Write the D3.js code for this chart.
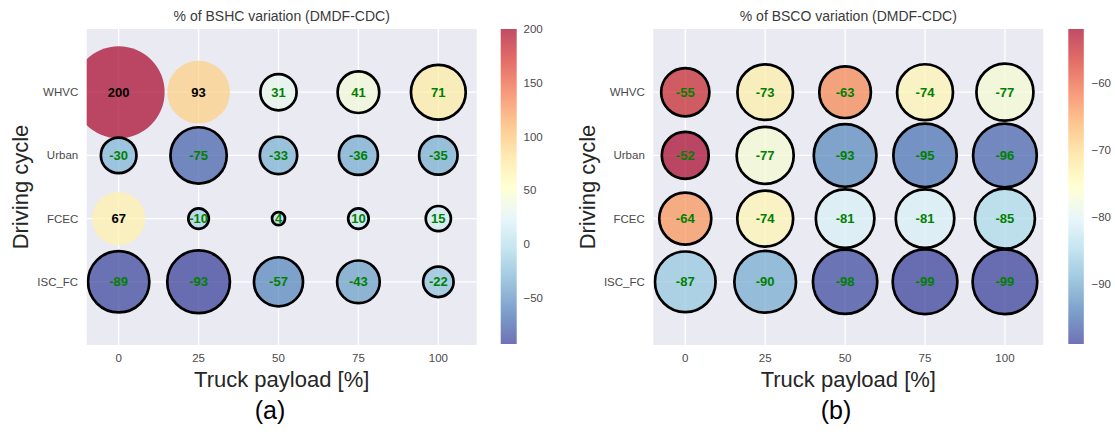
<!DOCTYPE html>
<html>
<head>
<meta charset="utf-8">
<script src="https://cdn.jsdelivr.net/npm/d3@7"></script>
<style>
  html, body { margin: 0; padding: 0; background: #ffffff; }
  svg { display: block; }
  text { font-family: "Liberation Sans", Arial, sans-serif; }
</style>
</head>
<body>
<svg id="chart" width="1115" height="439"></svg>
<script>
// Categories
const payloads = [0, 25, 50, 75, 100];
const cycles = ["WHVC", "Urban", "FCEC", "ISC_FC"];

// % of BSHC variation, one row per driving cycle (columns follow payloads)
const bshcWHVC  = [200, 93, 31, 41, 71];
const bshcUrban = [-30, -75, -33, -36, -35];
const bshcFCEC  = [67, -10, 4, 10, 15];
const bshcISC   = [-89, -93, -57, -43, -22];
// points drawn with a black ring (1) or without (0)
const bshcRingWHVC  = [0, 0, 1, 1, 1];
const bshcRingUrban = [1, 1, 1, 1, 1];
const bshcRingFCEC  = [0, 1, 1, 1, 1];
const bshcRingISC   = [1, 1, 1, 1, 1];

// % of BSCO variation
const bscoWHVC  = [-55, -73, -63, -74, -77];
const bscoUrban = [-52, -77, -93, -95, -96];
const bscoFCEC  = [-64, -74, -81, -81, -85];
const bscoISC   = [-87, -90, -98, -99, -99];
const bscoRingWHVC  = [1, 1, 1, 1, 1];
const bscoRingUrban = [1, 1, 1, 1, 1];
const bscoRingFCEC  = [1, 1, 1, 1, 1];
const bscoRingISC   = [1, 1, 1, 1, 1];

// Colour bar tick labels
const bshcTicks = [-50, 0, 50, 100, 150, 200];
const bscoTicks = [-90, -80, -70, -60];

const svg = d3.select("#chart");

// RdYlBu reversed, piecewise linear between the 11 scheme colours
const rdylbu = d3.piecewise(d3.interpolateRgb, d3.schemeRdYlBu[11]);
const cmap = t => rdylbu(1 - Math.max(0, Math.min(1, t)));

// marker area proportional to |value|
const rScale = d3.scaleSqrt().domain([0, 200]).range([0, 3.25 * Math.sqrt(200)]);

const PLOT_TOP = 29, PLOT_BOTTOM = 345;
const CB_TOP = 29, CB_BOTTOM = 344;
const TICK_COLOR = "#4a4a4a";

const panels = [
  {
    id: "a",
    title: "% of BSHC variation (DMDF-CDC)",
    rows: [bshcWHVC, bshcUrban, bshcFCEC, bshcISC],
    rings: [bshcRingWHVC, bshcRingUrban, bshcRingFCEC, bshcRingISC],
    ticks: bshcTicks,
    left: 86.7, right: 476.7,
    cbX: 500.7, cbW: 16, cbLabelX: 523.5,
    yLabelX: 28, tagX: 270, tag: "(a)"
  },
  {
    id: "b",
    title: "% of BSCO variation (DMDF-CDC)",
    rows: [bscoWHVC, bscoUrban, bscoFCEC, bscoISC],
    rings: [bscoRingWHVC, bscoRingUrban, bscoRingFCEC, bscoRingISC],
    ticks: bscoTicks,
    left: 653.3, right: 1043.3,
    cbX: 1068.3, cbW: 15.5, cbLabelX: 1091.5,
    yLabelX: 594.5, tagX: 836, tag: "(b)"
  }
];

const defs = svg.append("defs");

panels.forEach(p => {
  const x = d3.scaleLinear().domain([-10, 112]).range([p.left, p.right]);
  const y = d3.scalePoint().domain(cycles).range([PLOT_TOP, PLOT_BOTTOM]).padding(1);

  const all = p.rows.flat();
  const ext = d3.extent(all);
  const norm = d3.scaleLinear().domain(ext).range([0, 1]);
  const cbScale = d3.scaleLinear().domain(ext).range([CB_BOTTOM, CB_TOP]);

  const g = svg.append("g");

  // clip region for the plotting area
  defs.append("clipPath").attr("id", "clip-" + p.id)
    .append("rect")
    .attr("x", p.left).attr("y", PLOT_TOP)
    .attr("width", p.right - p.left).attr("height", PLOT_BOTTOM - PLOT_TOP);

  // background
  g.append("rect")
    .attr("x", p.left).attr("y", PLOT_TOP)
    .attr("width", p.right - p.left).attr("height", PLOT_BOTTOM - PLOT_TOP)
    .attr("fill", "#EAEAF2");

  // grid
  g.append("g").selectAll("line").data(payloads).join("line")
    .attr("x1", d => x(d)).attr("x2", d => x(d))
    .attr("y1", PLOT_TOP).attr("y2", PLOT_BOTTOM)
    .attr("stroke", "#ffffff").attr("stroke-width", 1.3);
  g.append("g").selectAll("line").data(cycles).join("line")
    .attr("y1", d => y(d)).attr("y2", d => y(d))
    .attr("x1", p.left).attr("x2", p.right)
    .attr("stroke", "#ffffff").attr("stroke-width", 1.3);

  // bubbles
  const pts = [];
  cycles.forEach((c, i) => {
    payloads.forEach((pl, j) => {
      pts.push({ cycle: c, payload: pl, value: p.rows[i][j], ring: p.rings[i][j] === 1 });
    });
  });

  const plotG = g.append("g").attr("clip-path", "url(#clip-" + p.id + ")");
  plotG.selectAll("circle.fill").data(pts).join("circle")
    .attr("class", "fill")
    .attr("cx", d => x(d.payload)).attr("cy", d => y(d.cycle))
    .attr("r", d => rScale(Math.abs(d.value)))
    .attr("fill", d => cmap(norm(d.value)))
    .attr("fill-opacity", 0.7);
  plotG.selectAll("circle.ring").data(pts.filter(d => d.ring)).join("circle")
    .attr("class", "ring")
    .attr("cx", d => x(d.payload)).attr("cy", d => y(d.cycle))
    .attr("r", d => rScale(Math.abs(d.value)))
    .attr("fill", "none")
    .attr("stroke", "#000").attr("stroke-width", 2.7);
  plotG.selectAll("text.val").data(pts).join("text")
    .attr("class", "val")
    .attr("x", d => x(d.payload)).attr("y", d => y(d.cycle))
    .attr("text-anchor", "middle").attr("dominant-baseline", "central")
    .attr("font-size", 13).attr("font-weight", "bold")
    .attr("fill", d => d.ring ? "#008000" : "#000000")
    .text(d => String(d.value));

  // x tick labels
  g.append("g").selectAll("text").data(payloads).join("text")
    .attr("x", d => x(d)).attr("y", 362)
    .attr("text-anchor", "middle").attr("font-size", 11.5).attr("fill", TICK_COLOR)
    .text(d => d);
  // y tick labels
  g.append("g").selectAll("text").data(cycles).join("text")
    .attr("x", p.left - 8.5).attr("y", d => y(d))
    .attr("text-anchor", "end").attr("dominant-baseline", "central")
    .attr("font-size", 11.5).attr("fill", TICK_COLOR)
    .text(d => d);

  // title and axis labels
  const cx = (p.left + p.right) / 2;
  g.append("text").attr("x", cx).attr("y", 21)
    .attr("text-anchor", "middle").attr("font-size", 14).attr("fill", "#3a3a3a")
    .text(p.title);
  g.append("text").attr("x", cx).attr("y", 387)
    .attr("text-anchor", "middle").attr("font-size", 22).attr("fill", "#262626")
    .text("Truck payload [%]");
  g.append("text")
    .attr("transform", `translate(${p.yLabelX},${(PLOT_TOP + PLOT_BOTTOM) / 2}) rotate(-90)`)
    .attr("text-anchor", "middle").attr("font-size", 22).attr("fill", "#262626")
    .text("Driving cycle");
  g.append("text").attr("x", p.tagX).attr("y", 419)
    .attr("text-anchor", "middle").attr("font-size", 25)
    .attr("font-family", "'Open Sans', 'Noto Sans', sans-serif").attr("fill", "#000")
    .text(p.tag);

  // colour bar
  const grad = defs.append("linearGradient").attr("id", "grad-" + p.id)
    .attr("x1", 0).attr("y1", 1).attr("x2", 0).attr("y2", 0);
  d3.range(0, 1.0001, 0.02).forEach(t => {
    grad.append("stop").attr("offset", t).attr("stop-color", cmap(t));
  });
  g.append("rect")
    .attr("x", p.cbX).attr("y", CB_TOP).attr("width", p.cbW).attr("height", CB_BOTTOM - CB_TOP)
    .attr("fill", "url(#grad-" + p.id + ")").attr("fill-opacity", 0.7);
  g.append("g").selectAll("text").data(p.ticks).join("text")
    .attr("x", p.cbLabelX).attr("y", d => cbScale(d))
    .attr("dominant-baseline", "central").attr("font-size", 11.5).attr("fill", TICK_COLOR)
    .text(d => d < 0 ? "\u2212" + Math.abs(d) : String(d));
});
</script>
</body>
</html>
